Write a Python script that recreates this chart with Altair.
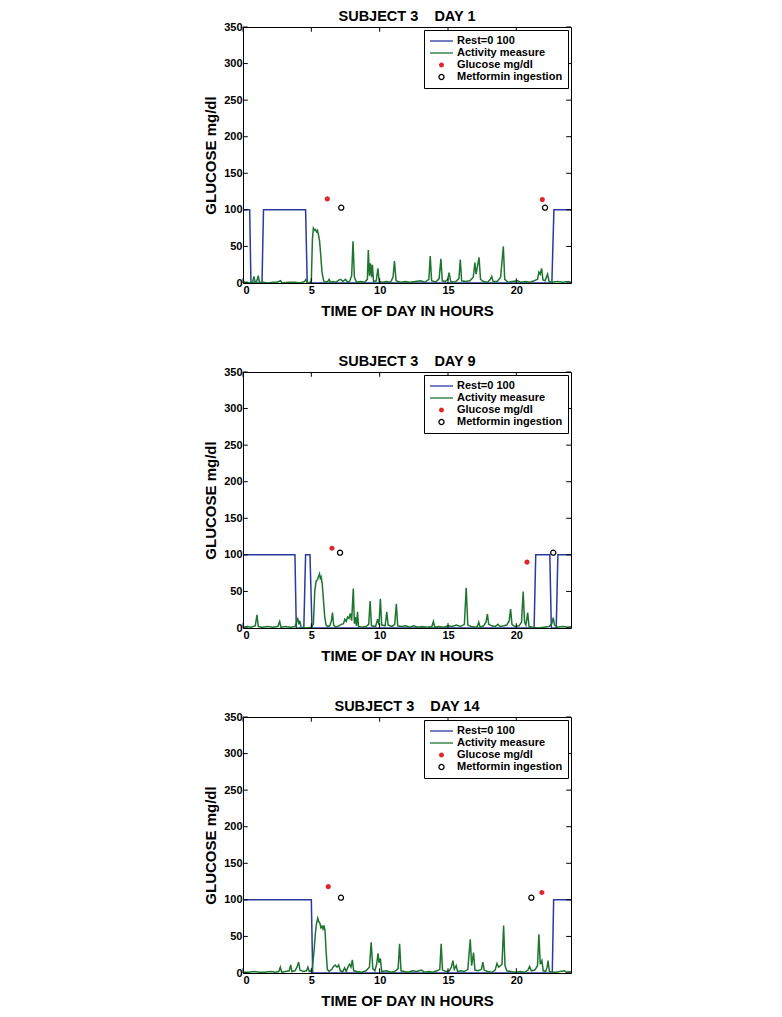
import altair as alt
import pandas as pd

FONT = "Liberation Sans"
SERIES = ["Rest=0 100", "Activity measure", "Glucose mg/dl", "Metformin ingestion"]
COLORS = ["#2b3a9e", "#1d7530", "#e3262b", "#000000"]
LINE_PATH = "M-1,0L1,0"
DOT_PATH = ("M-0.16,0A0.16,0.16,0,1,1,0.16,0A0.16,0.16,0,1,1,-0.16,0Z"
            "M-0.08,0A0.08,0.08,0,1,1,0.08,0A0.08,0.08,0,1,1,-0.08,0Z"
            "M-0.02,0L0.02,0")
RING_PATH = "M-0.22,0A0.22,0.22,0,1,1,0.22,0A0.22,0.22,0,1,1,-0.22,0Z"
SHAPES = [LINE_PATH, LINE_PATH, DOT_PATH, RING_PATH]
XTICKS = [0, 5, 10, 15, 20]
YTICKS = [0, 50, 100, 150, 200, 250, 300, 350]

TITLES = ["SUBJECT 3\u00a0\u00a0\u00a0\u00a0DAY 1",
          "SUBJECT 3\u00a0\u00a0\u00a0\u00a0DAY 9",
          "SUBJECT 3\u00a0\u00a0\u00a0\u00a0DAY 14"]

# ---------------- Day 1 ----------------
D1_REST = [(0, 100), (0.49, 100), (0.58, 0), (1.39, 0), (1.5, 100), (4.58, 100),
           (4.7, 0), (22.6, 0), (22.75, 100), (24, 100)]
D1_ACT = [(0.0, 2), (0.15, 1), (0.3, 1), (0.5, 0), (0.7, 1), (0.8, 9), (0.88, 1), (1.0, 2),
          (1.12, 10), (1.2, 1), (1.5, 1), (1.8, 0), (2.2, 1), (2.5, 1), (2.75, 3), (2.85, 0),
          (3.3, 1), (3.8, 1), (4.2, 0), (4.5, 2), (4.6, 5), (4.7, 0), (4.9, 1), (5.0, 3),
          (5.08, 60), (5.15, 75), (5.25, 72), (5.3, 73), (5.38, 70), (5.45, 72), (5.52, 66),
          (5.6, 58), (5.68, 40), (5.78, 15), (5.9, 3), (6.0, 1), (6.2, 2), (6.3, 5), (6.4, 1),
          (6.6, 2), (6.8, 1), (7.0, 4), (7.15, 5), (7.3, 2), (7.5, 5), (7.65, 1), (7.8, 2),
          (7.95, 10), (8.05, 57), (8.15, 8), (8.3, 1), (8.6, 2), (8.9, 1), (9.1, 5), (9.17, 45),
          (9.25, 10), (9.33, 27), (9.4, 8), (9.47, 25), (9.55, 2), (9.75, 3), (9.87, 20),
          (9.97, 2), (10.2, 1), (10.5, 2), (10.8, 1), (10.98, 8), (11.08, 30), (11.2, 3),
          (11.5, 1), (11.9, 2), (12.2, 1), (12.6, 2), (13.0, 3), (13.3, 1), (13.6, 5),
          (13.7, 37), (13.8, 3), (14.1, 1), (14.35, 6), (14.48, 33), (14.58, 3), (14.8, 2),
          (14.98, 5), (15.08, 14), (15.2, 2), (15.5, 1), (15.8, 6), (15.9, 32), (16.0, 3),
          (16.3, 2), (16.6, 3), (16.85, 8), (16.97, 28), (17.05, 12), (17.15, 22), (17.27, 35),
          (17.38, 5), (17.6, 2), (17.9, 1), (18.1, 5), (18.2, 9), (18.3, 2), (18.6, 2),
          (18.85, 8), (19.05, 50), (19.15, 5), (19.4, 1), (19.7, 2), (20.1, 3), (20.3, 1),
          (20.7, 2), (21.0, 1), (21.3, 3), (21.55, 5), (21.65, 15), (21.75, 12), (21.85, 20),
          (21.95, 4), (22.1, 3), (22.28, 12), (22.4, 2), (22.6, 1), (23.0, 2), (23.4, 1),
          (23.8, 2), (24.0, 1)]
D1_GLU = [(6.17, 115), (21.9, 114)]
D1_MET = [(7.19, 103), (22.1, 103)]

# ---------------- Day 9 ----------------
D9_REST = [(0, 100), (3.8, 100), (3.9, 0), (4.45, 0), (4.58, 100), (4.9, 100), (5.05, 0),
           (21.3, 0), (21.42, 100), (22.45, 100), (22.56, 0), (22.92, 0), (23.04, 100),
           (24, 100)]
D9_ACT = [(0.0, 1), (0.3, 2), (0.6, 1), (0.9, 3), (1.02, 18), (1.12, 2), (1.4, 1), (1.8, 2),
          (2.2, 1), (2.55, 2), (2.68, 9), (2.78, 1), (3.1, 2), (3.5, 1), (3.8, 2), (3.92, 8),
          (4.0, 14), (4.08, 5), (4.15, 10), (4.25, 1), (4.6, 0), (5.0, 1), (5.15, 5),
          (5.25, 50), (5.35, 64), (5.45, 66), (5.52, 70), (5.6, 74), (5.66, 68), (5.72, 70),
          (5.8, 60), (5.88, 40), (5.98, 15), (6.08, 4), (6.2, 2), (6.35, 3), (6.47, 10),
          (6.55, 21), (6.63, 4), (6.8, 1), (7.0, 3), (7.2, 5), (7.35, 6), (7.45, 12),
          (7.55, 9), (7.65, 15), (7.75, 13), (7.85, 20), (7.95, 10), (8.07, 54), (8.15, 6),
          (8.22, 15), (8.3, 3), (8.38, 22), (8.45, 2), (8.7, 1), (9.0, 2), (9.2, 5), (9.3, 37),
          (9.4, 3), (9.7, 2), (9.85, 12), (9.95, 4), (10.05, 40), (10.15, 4), (10.4, 3),
          (10.52, 22), (10.62, 4), (10.9, 2), (11.1, 5), (11.22, 33), (11.32, 3), (11.6, 2),
          (11.9, 3), (12.2, 1), (12.5, 3), (12.8, 1), (13.1, 2), (13.5, 1), (13.82, 2),
          (13.93, 9), (14.03, 1), (14.3, 2), (14.7, 1), (15.0, 3), (15.3, 2), (15.6, 4),
          (15.9, 2), (16.2, 5), (16.33, 55), (16.45, 4), (16.7, 2), (17.0, 1), (17.15, 2),
          (17.25, 8), (17.35, 1), (17.6, 3), (17.78, 8), (17.88, 19), (17.98, 5), (18.2, 3),
          (18.45, 2), (18.65, 5), (18.8, 2), (19.1, 3), (19.3, 4), (19.48, 10), (19.58, 26),
          (19.68, 5), (19.9, 2), (20.2, 3), (20.38, 8), (20.5, 50), (20.6, 8), (20.7, 4),
          (20.83, 21), (20.93, 2), (21.2, 1), (21.6, 0), (22.0, 1), (22.4, 2), (22.6, 6),
          (22.7, 14), (22.8, 4), (23.0, 1), (23.4, 2), (23.8, 1), (24.0, 2)]
D9_GLU = [(6.51, 109), (20.78, 90)]
D9_MET = [(7.1, 103), (22.7, 103)]

# ---------------- Day 14 ----------------
D14_REST = [(0, 100), (5.0, 100), (5.1, 0), (22.63, 0), (22.73, 100), (24, 100)]
D14_ACT = [(0.0, 1), (0.4, 1), (0.8, 2), (1.2, 1), (1.6, 1), (2.0, 2), (2.4, 1), (2.62, 2),
           (2.73, 8), (2.83, 1), (3.1, 2), (3.38, 3), (3.49, 11), (3.58, 2), (3.8, 3),
           (3.95, 8), (4.07, 15), (4.17, 4), (4.4, 2), (4.65, 3), (4.75, 8), (4.85, 2),
           (5.05, 3), (5.2, 30), (5.3, 55), (5.38, 68), (5.47, 75), (5.55, 70), (5.63, 68),
           (5.7, 62), (5.78, 64), (5.85, 60), (5.93, 65), (6.0, 58), (6.08, 30), (6.17, 5),
           (6.3, 2), (6.5, 5), (6.62, 9), (6.75, 11), (6.88, 8), (7.0, 11), (7.12, 3), (7.3, 2),
           (7.44, 7), (7.55, 2), (7.7, 9), (7.8, 12), (7.9, 8), (8.0, 18), (8.1, 3), (8.35, 2),
           (8.7, 1), (9.0, 3), (9.25, 8), (9.38, 42), (9.5, 6), (9.65, 3), (9.78, 12),
           (9.88, 27), (9.95, 14), (10.05, 20), (10.15, 2), (10.5, 3), (10.8, 1), (11.1, 2),
           (11.35, 6), (11.46, 40), (11.56, 3), (11.8, 2), (12.1, 1), (12.4, 3), (12.7, 2),
           (13.05, 4), (13.3, 1), (13.6, 2), (13.9, 1), (14.2, 3), (14.4, 5), (14.5, 40),
           (14.6, 4), (14.85, 2), (15.1, 3), (15.25, 8), (15.36, 17), (15.46, 5), (15.6, 10),
           (15.7, 2), (15.95, 3), (16.2, 2), (16.45, 5), (16.63, 46), (16.73, 10), (16.87, 28),
           (16.97, 4), (17.2, 3), (17.45, 5), (17.55, 15), (17.65, 4), (17.9, 2), (18.2, 1),
           (18.45, 4), (18.58, 13), (18.7, 8), (18.85, 10), (18.95, 12), (19.07, 65),
           (19.17, 10), (19.3, 3), (19.6, 2), (19.9, 1), (20.3, 2), (20.6, 1), (20.85, 4),
           (20.97, 9), (21.1, 3), (21.35, 4), (21.55, 10), (21.65, 53), (21.75, 12),
           (21.87, 17), (21.97, 3), (22.15, 2), (22.25, 8), (22.32, 17), (22.42, 2), (22.6, 1),
           (22.9, 1), (23.2, 2), (23.53, 3), (23.65, 1), (24.0, 2)]
D14_GLU = [(6.24, 118), (21.87, 110)]
D14_MET = [(7.17, 103), (21.1, 103)]

W, H = 328, 256
XMAX, YMAX = 24, 350
XTICK_LEN, YTICK_LEN = 0.35, 6.5   # inward tick length in data units (~5 px)

XAX = alt.Axis(values=XTICKS, tickCount=5, labelOverlap=False, title="TIME OF DAY IN HOURS")
YAX = alt.Axis(values=YTICKS, tickCount=8, labelOverlap=False, title="GLUCOSE mg/dl")


def X(field):
    return alt.X(field + ":Q", scale=alt.Scale(domain=[0, XMAX], nice=False, zero=False), axis=XAX)


def Y(field):
    return alt.Y(field + ":Q", scale=alt.Scale(domain=[0, YMAX], nice=False), axis=YAX)


def rows(pairs, name):
    return [{"t": t, "v": v, "series": name} for t, v in pairs]


def panel(title, rest, act, glu, met):
    lines = pd.DataFrame(rows(rest, SERIES[0]) + rows(act, SERIES[1]))
    gdf = pd.DataFrame(rows(glu, SERIES[2]))
    mdf = pd.DataFrame(rows(met, SERIES[3]))
    xb = pd.DataFrame({"t": XTICKS, "a": [0] * 5, "b": [YTICK_LEN] * 5})
    xtp = pd.DataFrame({"t": XTICKS, "a": [YMAX] * 5, "b": [YMAX - YTICK_LEN] * 5})
    yl = pd.DataFrame({"v": YTICKS, "a": [0] * 8, "b": [XTICK_LEN] * 8})
    yr = pd.DataFrame({"v": YTICKS, "a": [XMAX] * 8, "b": [XMAX - XTICK_LEN] * 8})

    leg = alt.Legend(title=None, orient="top-right", offset=3, padding=5,
                     strokeColor="black", fillColor="white", cornerRadius=0,
                     labelFont=FONT, labelFontWeight="bold", labelFontSize=11,
                     labelColor="black", symbolSize=529, symbolStrokeWidth=1.3,
                     symbolFillColor="transparent",
                     clipHeight=12, rowPadding=0, labelOffset=3, symbolOffset=0)
    color = alt.Color("series:N", scale=alt.Scale(domain=SERIES, range=COLORS), legend=leg)
    shape = alt.Shape("series:N", scale=alt.Scale(domain=SERIES, range=SHAPES), legend=leg)

    line = alt.Chart(lines).mark_line(strokeWidth=1.5, clip=True).encode(
        x=X("t"), y=Y("v"), color=color)
    gl = alt.Chart(gdf).mark_point(filled=False, size=529, strokeWidth=1.5, opacity=1).encode(
        x=X("t"), y=Y("v"), color=color, shape=shape)
    mt = alt.Chart(mdf).mark_point(filled=False, size=529, strokeWidth=1.3, opacity=1).encode(
        x=X("t"), y=Y("v"), color=color, shape=shape)
    rule = dict(color="black", strokeWidth=1)
    tb = alt.Chart(xb).mark_rule(**rule).encode(x=X("t"), y=Y("a"), y2="b:Q")
    tt = alt.Chart(xtp).mark_rule(**rule).encode(x=X("t"), y=Y("a"), y2="b:Q")
    tl = alt.Chart(yl).mark_rule(**rule).encode(y=Y("v"), x=X("a"), x2="b:Q")
    tr = alt.Chart(yr).mark_rule(**rule).encode(y=Y("v"), x=X("a"), x2="b:Q")

    return alt.layer(line, gl, mt, tb, tt, tl, tr).properties(
        width=W, height=H,
        title=alt.TitleParams(title, font=FONT, fontSize=14.5, fontWeight="bold",
                              color="black", anchor="middle", offset=-3, frame="group"))


chart = alt.vconcat(
    panel(TITLES[0], D1_REST, D1_ACT, D1_GLU, D1_MET),
    panel(TITLES[1], D9_REST, D9_ACT, D9_GLU, D9_MET),
    panel(TITLES[2], D14_REST, D14_ACT, D14_GLU, D14_MET),
    spacing=34,
).resolve_scale(color="independent", shape="independent").resolve_legend(
    color="independent", shape="independent"
).properties(
    padding={"left": 195, "top": 0, "right": 5, "bottom": 5},
    background="white",
).configure_view(stroke="black", strokeWidth=1).configure_axis(
    labelFont=FONT, labelFontWeight="bold", labelFontSize=11, labelColor="black",
    titleFont=FONT, titleFontWeight="bold", titleFontSize=15, titleColor="black",
    ticks=False, domain=False, grid=False, labelOverlap=False,
).configure_axisX(labelPadding=1, titlePadding=8).configure_axisY(labelPadding=1, titlePadding=5)

chart.save("out.html", embed_options={"renderer": "svg", "actions": False})
